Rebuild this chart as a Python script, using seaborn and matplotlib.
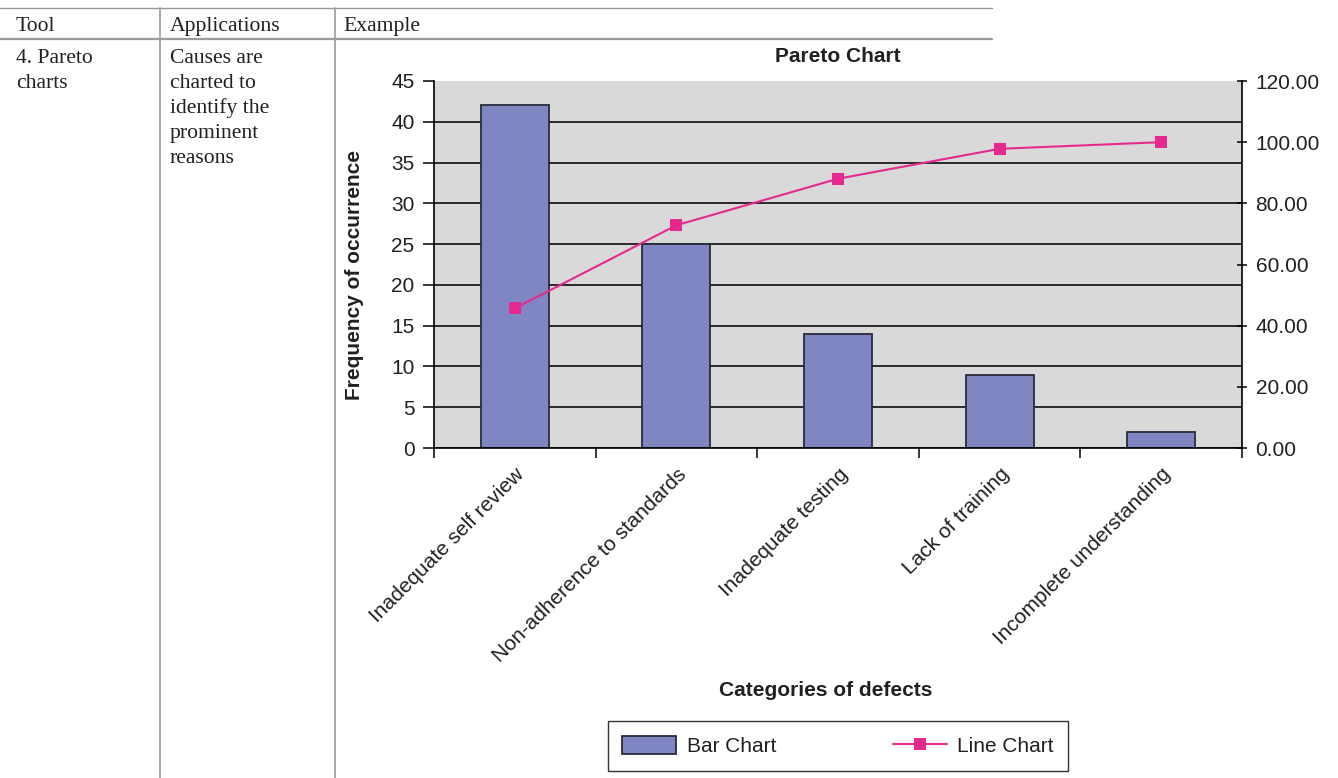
import numpy as np
import pandas as pd
import matplotlib
matplotlib.use("Agg")
import matplotlib.pyplot as plt
import seaborn as sns
from matplotlib.lines import Line2D
from matplotlib.ticker import FormatStrFormatter

# ---- data -------------------------------------------------------------
categories = [
    "Inadequate self review",
    "Non-adherence to standards",
    "Inadequate testing",
    "Lack of training",
    "Incomplete understanding",
]
frequency = [42, 25, 14, 9, 2]
cumulative_pct = [45.65, 72.83, 88.04, 97.83, 100.00]
left_ticks = [0, 5, 10, 15, 20, 25, 30, 35, 40, 45]
right_ticks = [0, 20, 40, 60, 80, 100, 120]

header_labels = ["Tool", "Applications", "Example"]
tool_lines = ["4. Pareto", "charts"]
application_lines = ["Causes are", "charted to", "identify the", "prominent", "reasons"]

# ---- style ------------------------------------------------------------
sns.set_theme(style="white")
plt.rcParams["font.family"] = ["Liberation Sans", "DejaVu Sans"]
TEXT = "#231f20"
RULE = "#9a9a9a"
BAR = "#8086c1"
LINE = "#e6298e"
FS = 15

W, H = 1338, 778
fig = plt.figure(figsize=(W / 100, H / 100), dpi=100)
fig.patch.set_facecolor("white")


def fx(px):
    return px / W


def fy(py):
    return 1 - py / H


# ---- table frame ------------------------------------------------------
fig.add_artist(Line2D([fx(0), fx(992)], [fy(8), fy(8)], color=RULE, lw=1.0))
fig.add_artist(Line2D([fx(0), fx(992)], [fy(39), fy(39)], color=RULE, lw=1.6))
for xv in (160, 335):
    fig.add_artist(Line2D([fx(xv), fx(xv)], [fy(8), fy(778)], color=RULE, lw=1.2))

serif = ["Liberation Serif", "DejaVu Serif"]
SFS = 15.6
for label, xv in zip(header_labels, (16, 170, 343)):
    fig.text(fx(xv), fy(31), label, family=serif, fontsize=SFS, color=TEXT, va="baseline")
for i, line in enumerate(tool_lines):
    fig.text(fx(16), fy(63 + 25 * i), line, family=serif, fontsize=SFS, color=TEXT, va="baseline")
for i, line in enumerate(application_lines):
    fig.text(fx(170), fy(63 + 25 * i), line, family=serif, fontsize=SFS, color=TEXT, va="baseline")

# ---- Pareto chart -----------------------------------------------------
ax = fig.add_axes([fx(434), fy(448), fx(1242) - fx(434), fy(81) - fy(448)])
ax.set_facecolor("#d9d9d9")

df = pd.DataFrame({"category": categories, "frequency": frequency,
                   "cumulative": cumulative_pct})

sns.barplot(data=df, x="category", y="frequency", order=categories,
            color=BAR, saturation=1, width=0.42, edgecolor="#2b2b3a",
            linewidth=1.3, ax=ax)

ax.set_axisbelow(True)
ax.yaxis.grid(True, color="#2a2a2a", linewidth=1.4)
ax.xaxis.grid(False)
ax.set_ylim(0, 45)
ax.set_xlim(-0.5, 4.5)
ax.set_yticks(left_ticks)

ax2 = ax.twinx()
sns.lineplot(data=df, x="category", y="cumulative", sort=False, marker="s",
             markersize=8, markeredgewidth=0, color=LINE, linewidth=1.5, ax=ax2)
ax2.set_ylim(0, 120)
ax2.set_yticks(right_ticks)
ax2.yaxis.set_major_formatter(FormatStrFormatter("%.2f"))
ax2.set_ylabel("")
ax2.grid(False)

for s in ("top", "right"):
    ax.spines[s].set_visible(False)
for s in ("left", "bottom"):
    ax.spines[s].set_color("black")
    ax.spines[s].set_linewidth(1.2)
for s in ("top", "left", "bottom"):
    ax2.spines[s].set_visible(False)
ax2.spines["right"].set_color("black")
ax2.spines["right"].set_linewidth(1.2)

ax.tick_params(axis="y", direction="out", length=8, width=1.1, color="black",
               labelsize=FS, labelcolor=TEXT, pad=6, left=True)
ax2.tick_params(axis="y", direction="inout", length=7.5, width=1.1, color="black",
                labelsize=FS, labelcolor=TEXT, pad=6, right=True)

# category boundaries carry the tick marks, centres carry the labels
ax.set_xticks(np.arange(-0.5, 5.0, 1.0), minor=True)
ax.tick_params(axis="x", which="minor", direction="out", length=7.5, width=1.1,
               color="black", bottom=True)
ax.tick_params(axis="x", which="major", length=0, pad=12, labelsize=FS,
               labelcolor=TEXT)
for t in ax.get_xticklabels():
    t.set_rotation(45)
    t.set_ha("right")
    t.set_va("top")
    t.set_rotation_mode("anchor")

ax.set_ylabel("Frequency of occurrence", fontsize=FS, fontweight="bold", color=TEXT)
ax.yaxis.set_label_coords((364 - 434) / 808, (448 - 275) / 367)
ax.set_xlabel("Categories of defects", fontsize=FS, fontweight="bold", color=TEXT)
ax.xaxis.set_label_coords((826 - 434) / 808, (448 - 681) / 367)
ax.text(0.5, 1 + (81 - 57) / 367, "Pareto Chart", transform=ax.transAxes,
        ha="center", va="center", fontsize=FS, fontweight="bold", color=TEXT)

handles = [ax.patches[0], ax2.lines[0]]
leg = fig.legend(handles, ["Bar Chart", "Line Chart"], loc="center",
                 bbox_to_anchor=(fx(838), fy(746)), ncol=2, fontsize=FS,
                 frameon=True, fancybox=False, edgecolor="black",
                 handlelength=2.6, handleheight=0.95, handletextpad=0.5,
                 columnspacing=5.6, borderpad=0.7, borderaxespad=0)
leg.get_frame().set_linewidth(1.0)
for t in leg.get_texts():
    t.set_color(TEXT)

fig.canvas.draw()
# the top of the plot area has no rule at 45
for tick_val, gl in zip(ax.get_yticks(), ax.yaxis.get_gridlines()):
    if tick_val >= 45:
        gl.set_visible(False)

fig.savefig("out.png", dpi=100, facecolor="white")
